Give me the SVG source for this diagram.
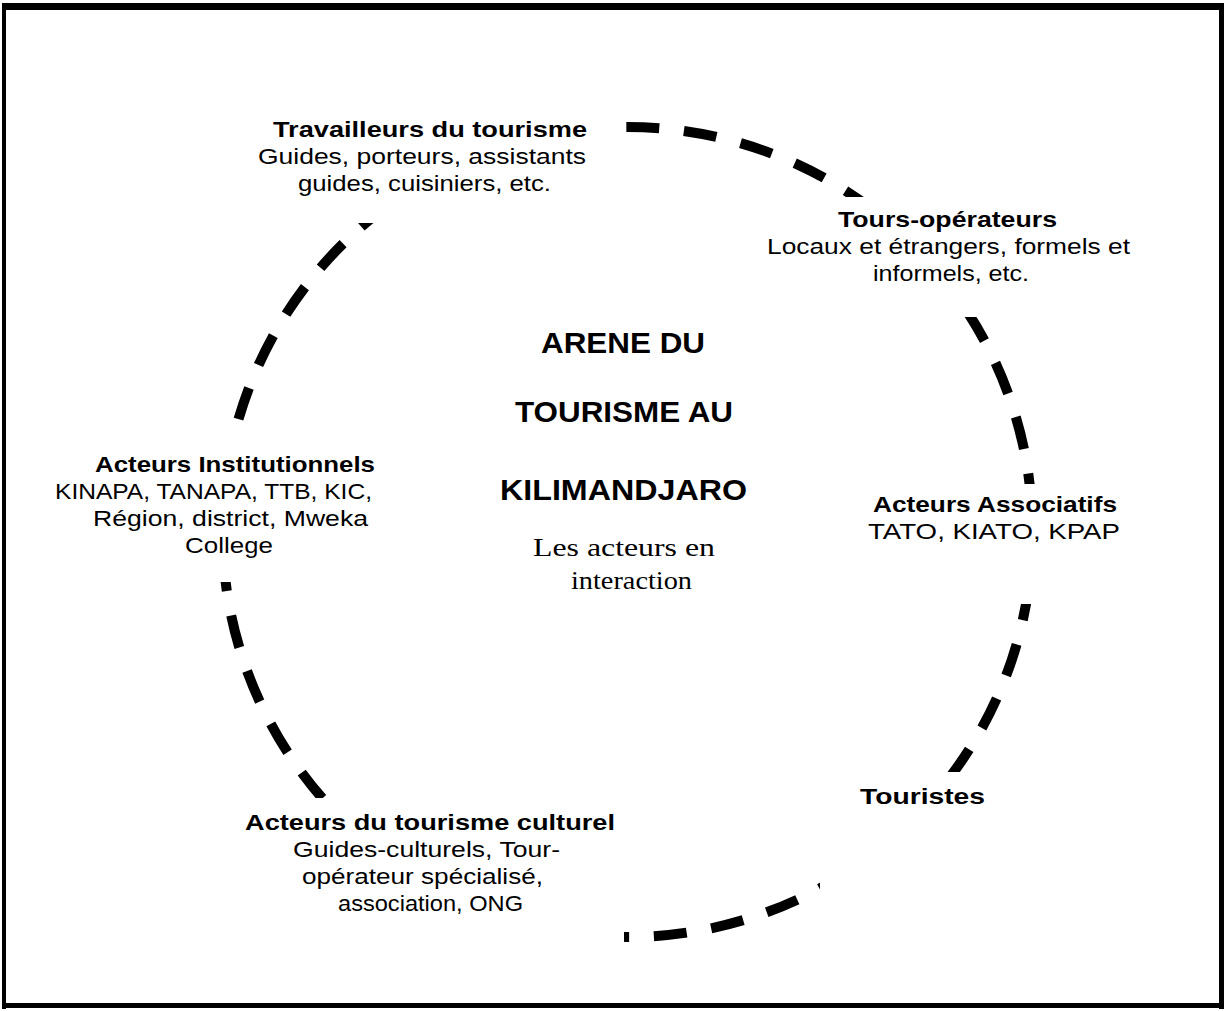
<svg xmlns="http://www.w3.org/2000/svg" width="1227" height="1011" viewBox="0 0 1227 1011">
<style>
.bg{fill:#fff;stroke:none}
.t{font-family:"Liberation Sans",Arial,sans-serif;font-size:21.5px;fill:#000;text-anchor:middle}
.b{font-weight:bold}
.title{font-family:"Liberation Sans",Arial,sans-serif;font-size:29.5px;font-weight:bold;fill:#000;text-anchor:middle}
.serif{font-family:"Liberation Serif","Times New Roman",serif;font-size:26px;fill:#000;text-anchor:middle}
.ring{fill:none;stroke:#000;stroke-width:10;stroke-dasharray:33 24.835;stroke-dashoffset:1.9;stroke-linecap:butt}
</style>
<rect width="1227" height="1011" fill="#fff"/>
<g id="frame" fill="#000">
<rect x="2" y="3" width="1222" height="7"/>
<rect x="2" y="3" width="4" height="1006"/>
<rect x="1219" y="3" width="5" height="1006"/>
<rect x="2" y="1003" width="1222" height="5"/>
</g>
<g id="connectors">
<path class="ring" d="M1032.5 532A405 405 0 1 1 222.5 532A405 405 0 1 1 1032.5 532Z"/>
</g>
<g id="travailleurs">
<rect class="bg" x="250" y="105" width="365" height="118"/>
<text class="t b" x="430" y="137" textLength="314" lengthAdjust="spacingAndGlyphs">Travailleurs du tourisme</text>
<text class="t" x="422" y="164" textLength="328" lengthAdjust="spacingAndGlyphs">Guides, porteurs, assistants</text>
<text class="t" x="424.5" y="191" textLength="253" lengthAdjust="spacingAndGlyphs">guides, cuisiniers, etc.</text>
</g>
<g id="tours-operateurs">
<rect class="bg" x="760" y="197" width="380" height="120"/>
<text class="t b" x="947.5" y="227" textLength="219" lengthAdjust="spacingAndGlyphs">Tours-opérateurs</text>
<text class="t" x="948.5" y="254" textLength="363" lengthAdjust="spacingAndGlyphs">Locaux et étrangers, formels et</text>
<text class="t" x="951" y="281" textLength="156" lengthAdjust="spacingAndGlyphs">informels, etc.</text>
</g>
<g id="associatifs">
<rect class="bg" x="860" y="484" width="270" height="120"/>
<text class="t b" x="995" y="512" textLength="244" lengthAdjust="spacingAndGlyphs">Acteurs Associatifs</text>
<text class="t" x="994" y="539" textLength="252" lengthAdjust="spacingAndGlyphs">TATO, KIATO, KPAP</text>
</g>
<g id="touristes">
<rect class="bg" x="820" y="772" width="190" height="128"/>
<text class="t b" x="922.5" y="804" textLength="125" lengthAdjust="spacingAndGlyphs">Touristes</text>
</g>
<g id="culturel">
<rect class="bg" x="240" y="798" width="384" height="150"/>
<text class="t b" x="430" y="830" textLength="370" lengthAdjust="spacingAndGlyphs">Acteurs du tourisme culturel</text>
<text class="t" x="426.5" y="857" textLength="267" lengthAdjust="spacingAndGlyphs">Guides-culturels, Tour-</text>
<text class="t" x="422.5" y="884" textLength="241" lengthAdjust="spacingAndGlyphs">opérateur spécialisé,</text>
<text class="t" x="430.5" y="911" textLength="185" lengthAdjust="spacingAndGlyphs">association, ONG</text>
</g>
<g id="institutionnels">
<rect class="bg" x="50" y="440" width="355" height="142"/>
<text class="t b" x="235" y="472" textLength="280" lengthAdjust="spacingAndGlyphs">Acteurs Institutionnels</text>
<text class="t" x="213.5" y="499" textLength="317" lengthAdjust="spacingAndGlyphs">KINAPA, TANAPA, TTB, KIC,</text>
<text class="t" x="230.5" y="526" textLength="275" lengthAdjust="spacingAndGlyphs">Région, district, Mweka</text>
<text class="t" x="229" y="553" textLength="88" lengthAdjust="spacingAndGlyphs">College</text>
</g>
<g id="arene">
<text class="title" x="623" y="353" textLength="164" lengthAdjust="spacingAndGlyphs">ARENE DU</text>
<text class="title" x="624" y="422" textLength="218" lengthAdjust="spacingAndGlyphs">TOURISME AU</text>
<text class="title" x="623.5" y="500" textLength="247" lengthAdjust="spacingAndGlyphs">KILIMANDJARO</text>
<text class="serif" x="624" y="556" textLength="182" lengthAdjust="spacingAndGlyphs">Les acteurs en</text>
<text class="serif" x="631.5" y="589" textLength="121" lengthAdjust="spacingAndGlyphs">interaction</text>
</g>
</svg>
